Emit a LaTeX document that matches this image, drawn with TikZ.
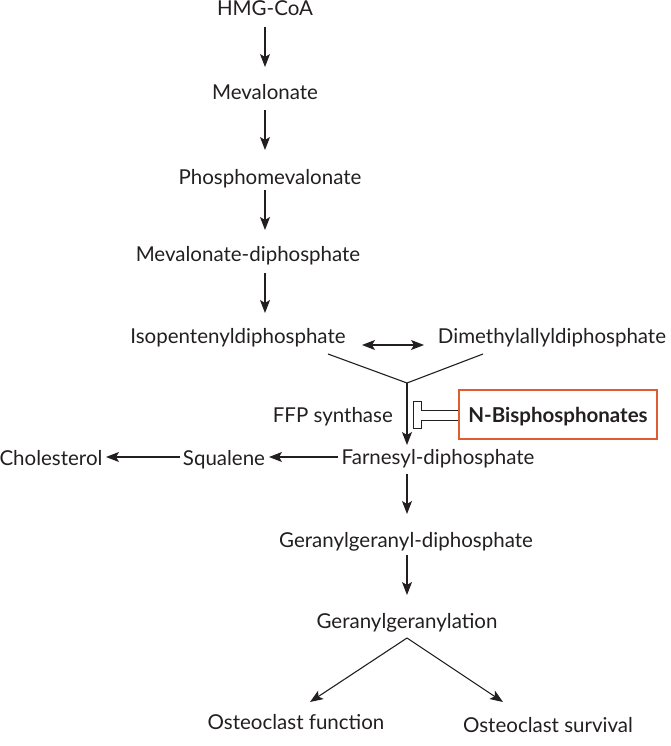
\documentclass[tikz,border=0pt]{standalone}
\usepackage{fontspec}
\setmainfont{Lato}
\usetikzlibrary{arrows.meta}
\definecolor{boxorange}{RGB}{222,92,48}
\definecolor{ink}{RGB}{35,31,32}
\tikzset{
  lbl/.style={inner sep=0pt, anchor=base, text=ink, font=\fontsize{20.5}{24}\selectfont},
  tip/.tip={Stealth[length=13pt,width=10pt,inset=3pt]},
  arr/.style={-tip, line width=1.1pt, draw=ink},
  ln/.style={line width=1.1pt, draw=ink}
}
\begin{document}
\begin{tikzpicture}[x=1pt,y=-1pt]
\useasboundingbox (0,0) rectangle (671,746);
\node[lbl] (hmg) at (265,16) {HMG-CoA};
\node[lbl] (mev) at (265,100) {Mevalonate};
\node[lbl] (pmev) at (270,184) {Phosphomevalonate};
\node[lbl] (mdp) at (248,261) {Mevalonate-diphosphate};
\node[lbl] (ipp) at (238,343) {Isopentenyldiphosphate};
\node[lbl] (dmp) at (552,343) {Dimethylallyldiphosphate};
\node[lbl, anchor=base east] (ffps) at (393,422) {FFP synthase};
\node[lbl, font=\fontsize{20.5}{24}\selectfont\bfseries] (nbp) at (558,422) {N-Bisphosphonates};
\draw[boxorange, line width=2pt] (459,390) rectangle (657,439);
\node[lbl] (fdp) at (438,464) {Farnesyl-diphosphate};
\node[lbl] (sq) at (224,465) {Squalene};
\node[lbl] (chol) at (51,465) {Cholesterol};
\node[lbl] (ggdp) at (406,547) {Geranylgeranyl-diphosphate};
\node[lbl] (gg) at (407,628) {Geranylgeranylation};
\node[lbl] (ocf) at (296,729) {Osteoclast function};
\node[lbl] (ocs) at (548,732) {Osteoclast survival};

\coordinate (j1) at (407,383);
\coordinate (j2) at (407,638);

\draw[arr] (265,27) -- (265,67);
\draw[arr] (265,110) -- (265,150);
\draw[arr] (265,190) -- (265,230);
\draw[arr] (265,273) -- (265,313);
\draw[arr, tip-tip] (362,345) -- (424,345);
\draw[ln] (328,354) -- (j1) -- (483,354);
\draw[arr] (j1) -- (407,445);
\draw[arr] (338,457) -- (269,457);
\draw[arr] (180,457) -- (106,457);
\draw[arr] (407,474) -- (407,514);
\draw[arr] (407,555) -- (407,595);
\draw[arr] (j2) -- (310,702);
\draw[arr] (j2) -- (503,702);
% inhibitor
\draw[ln, line width=0.8pt] (458,410) -- (421,410) -- (421,401) -- (413,401) -- (413,428) -- (421,428) -- (421,420) -- (458,420);
\end{tikzpicture}
\end{document}
